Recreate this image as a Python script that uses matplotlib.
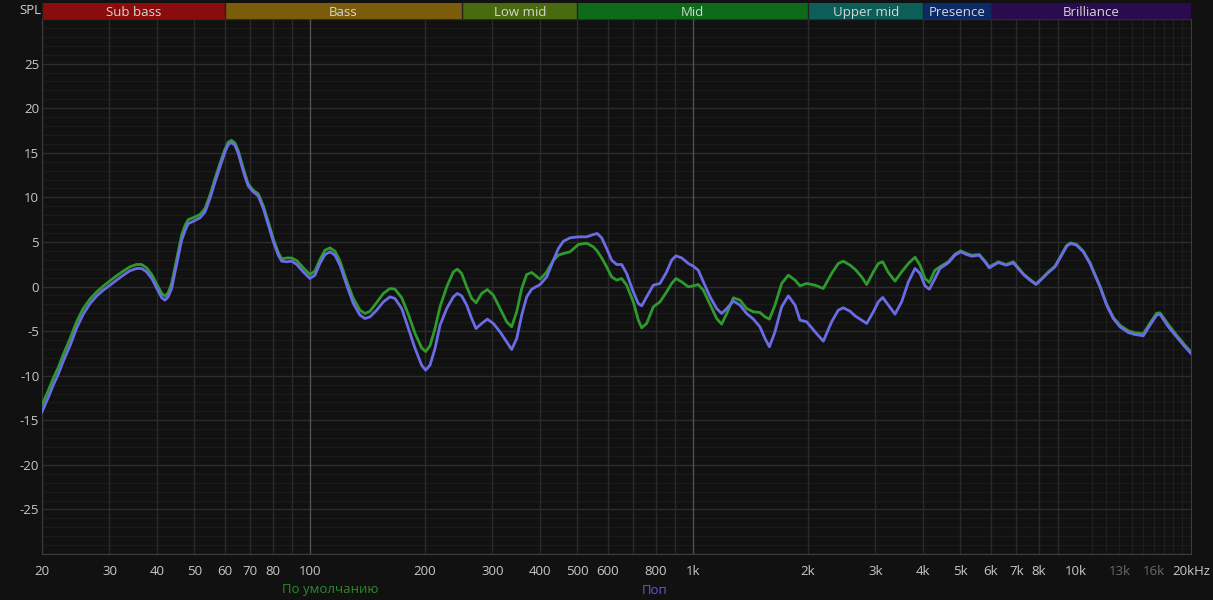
import numpy as np
import matplotlib
matplotlib.use("Agg")
import matplotlib.pyplot as plt

plt.rcParams['font.family'] = ['Open Sans', 'DejaVu Sans']
plt.rcParams['axes.unicode_minus'] = False

# Частоты (Гц)
freqs = [20.0, 20.8, 21.4, 22.1, 22.7, 23.7, 24.6, 25.6, 26.7, 27.8, 28.9, 30.1, 31.3, 32.6,
         33.9, 35.3, 36.4, 37.5, 38.7, 39.9, 41.1, 41.9, 42.7, 43.6, 44.5, 45.4, 46.3, 47.3,
         48.2, 49.7, 51.7, 53.3, 54.9, 56.6, 58.3, 60.1, 61.3, 62.5, 63.8, 65.1, 66.4, 67.8,
         69.1, 71.2, 73.4, 75.7, 78.0, 80.4, 82.8, 84.5, 87.1, 89.7, 92.5, 96.2, 100.1, 103.2,
         106.3, 109.6, 113.0, 116.4, 120.0, 124.9, 130.0, 135.3, 139.4, 143.7, 149.6, 155.7,
         162.1, 167.0, 173.9, 181.0, 188.4, 196.0, 200.8, 206.1, 212.4, 218.9,
         227.9, 237.2, 242.9, 249.3, 257.0, 264.8, 271.8, 281.2, 290.9, 301.6, 313.9, 326.8,
         336.8, 347.1, 357.7, 368.6, 379.9, 399.5, 415.8, 432.8, 446.0, 459.6, 478.4, 502.9,
         528.6, 550.2, 563.6, 578.4, 596.0, 614.2, 633.0, 652.3, 672.3, 699.7, 721.1, 735.7,
         758.1, 789.1, 821.5, 855.1, 881.2, 904.4, 935.7, 973.9, 1003.5, 1034, 1066, 1110,
         1155, 1190, 1227, 1277, 1329, 1383, 1440, 1498, 1544, 1586, 1640, 1707, 1777, 1850,
         1906, 1984, 2086, 2193, 2305, 2400, 2473, 2575,
         2653, 2761, 2846, 2963, 3053, 3134, 3242, 3374, 3512, 3657, 3806, 3922, 4041, 4148,
         4291, 4421, 4648, 4839, 5006, 5190, 5348, 5600, 5795, 5948, 6281, 6577, 6874, 7299,
         7597, 7877, 8150, 8484, 8830, 9190, 9471, 9700, 10056, 10467, 10896, 11230, 11573,
         12045, 12537, 13049, 13720, 14281, 15013, 15628, 16266, 16600, 17448, 18343, 19283,
         20000]

# "По умолчанию" (зелёная)
default_db = [-13.3, -11.6, -10.3, -9.0, -7.7, -5.8, -4.0, -2.5, -1.4, -0.6, 0.04, 0.63, 1.2, 1.72,
              2.2, 2.47, 2.47, 2.09, 1.35, 0.22, -0.78, -1.08, -0.7, 0.34, 2.2, 4.07, 5.75, 6.88,
              7.5, 7.73, 8.07, 8.74, 10.24, 12.1, 13.8, 15.4, 16.2, 16.4, 16.1, 15.2, 13.9, 12.6,
              11.5, 10.8, 10.4, 9.0, 7.2, 5.3, 3.8, 3.1, 3.2, 3.2, 2.9, 2.1, 1.35, 1.72,
              3.0, 4.07, 4.33, 3.96, 2.84, 0.6, -1.35, -2.65, -3.03, -2.77, -1.8, -0.78,
              -0.22, -0.3, -1.27, -3.14, -5.27, -6.88, -7.3, -6.65, -4.71, -2.28,
              -0.04, 1.64, 1.94, 1.46, -0.04, -1.35, -1.83, -0.78, -0.34, -0.97, -2.47, -3.96,
              -4.52, -2.84, -0.22, 1.35, 1.57, 0.82, 1.64, 2.95, 3.51, 3.70, 3.89, 4.71,
              4.86, 4.45, 3.96, 3.21, 2.21, 1.08, 0.71, 0.90, 0.15, -1.72, -3.77, -4.63,
              -4.15, -2.28, -1.72, -0.60, 0.34, 0.90, 0.52, -0.04, 0.07, 0.22, -0.41, -2.02,
              -3.59, -4.22, -3.03, -1.27, -1.53, -2.47, -2.84, -2.91, -3.40, -3.66, -2.09, 0.34, 1.27, 0.71,
              0.07, 0.34, 0.15, -0.22, 1.46, 2.58, 2.84, 2.39,
              1.94, 1.08, 0.22, 1.64, 2.58, 2.77, 1.57, 0.60, 1.64, 2.58, 3.29, 2.39, 0.90, 0.45,
              1.83, 2.21, 2.77, 3.62, 4.00, 3.70, 3.51, 3.59, 2.84, 2.21, 2.77, 2.47, 2.77, 1.42,
              0.79, 0.30, 0.90, 1.64, 2.28, 3.59, 4.60, 4.90, 4.71, 3.96, 2.65, 1.35, 0.04,
              -2.0, -3.48, -4.34, -4.97, -5.2, -5.31, -4.11, -3.0, -2.95, -4.26, -5.46, -6.58,
              -7.33]

# "Поп" (синяя)
pop_db = [-14.05, -12.37, -11.06, -9.75, -8.44, -6.58, -4.71, -3.14, -1.91, -1.05, -0.41, 0.15, 0.71, 1.27,
          1.76, 2.02, 2.02, 1.64, 0.90, -0.22, -1.27, -1.53, -1.16, -0.22, 1.64, 3.51, 5.19, 6.31,
          7.06, 7.32, 7.70, 8.37, 9.87, 11.73, 13.41, 15.10, 15.92, 16.14, 15.84, 14.91, 13.60, 12.29,
          11.28, 10.61, 10.16, 8.74, 6.88, 5.01, 3.51, 2.84, 2.77, 2.84, 2.47, 1.64, 0.90, 1.27,
          2.58, 3.59, 3.89, 3.51, 2.39, 0.15, -1.91, -3.21, -3.59, -3.40, -2.65, -1.72,
          -1.16, -1.35, -2.47, -4.71, -6.95, -8.82, -9.38, -8.82, -6.95, -4.34,
          -2.47, -1.16, -0.78, -1.05, -2.09, -3.59, -4.71, -4.15, -3.66, -4.15, -5.08, -6.20,
          -7.06, -5.83, -3.21, -1.16, -0.30, 0.22, 1.08, 2.95, 4.26, 5.08, 5.46, 5.57,
          5.57, 5.83, 5.94, 5.46, 4.26, 2.95, 2.47, 2.47, 1.46, -0.60, -1.91, -2.17,
          -1.16, 0.15, 0.34, 1.64, 2.95, 3.44, 3.21, 2.58, 2.28, 1.83, 0.52, -1.16,
          -2.47, -3.03, -2.47, -1.64, -2.09, -3.03, -3.66, -4.52, -5.83, -6.76, -5.08, -2.28, -1.05, -2.09,
          -3.77, -3.96, -5.08, -6.13, -3.96, -2.65, -2.39, -2.77,
          -3.29, -3.77, -4.15, -2.84, -1.72, -1.23, -2.09, -3.10, -1.72, 0.52, 2.02, 1.46, 0.07, -0.30,
          0.90, 2.02, 2.65, 3.51, 3.89, 3.59, 3.40, 3.51, 2.77, 2.09, 2.69, 2.39, 2.65, 1.35,
          0.71, 0.22, 0.82, 1.57, 2.21, 3.51, 4.52, 4.82, 4.63, 3.89, 2.58, 1.27, -0.04,
          -2.09, -3.59, -4.52, -5.16, -5.38, -5.53, -4.34, -3.21, -3.1, -4.52, -5.64, -6.76,
          -7.51]

# Полосы частот
band_names = ["Sub bass", "Bass", "Low mid", "Mid", "Upper mid", "Presence", "Brilliance"]
band_edges = [20, 60, 250, 500, 2000, 4000, 6000, 20000]
band_colors = ["#8a0c0c", "#7a5c0a", "#4a6a10", "#0c6a1a", "#0d5e58", "#0c2a66", "#2a0c4e"]

xtick_vals = [20, 30, 40, 50, 60, 70, 80, 100, 200, 300, 400, 500, 600, 800,
              1000, 2000, 3000, 4000, 5000, 6000, 7000, 8000, 10000, 13000, 16000, 20000]
xtick_labels = ["20", "30", "40", "50", "60", "70", "80", "100", "200", "300", "400", "500",
                "600", "800", "1k", "2k", "3k", "4k", "5k", "6k", "7k", "8k", "10k",
                "13k", "16k", "20kHz"]

bg = "#111111"
fig = plt.figure(figsize=(12.13, 6.0), dpi=100, facecolor=bg)
ax = fig.add_axes([42 / 1213, 46 / 600, 1149 / 1213, 535 / 600], facecolor=bg)
ax.set_xscale("log")
ax.set_xlim(20, 20000)
ax.set_ylim(-30, 30)

# сетка
for d in range(-30, 31):
    if d % 5 == 0:
        ax.axhline(d, color="#2c2c2c", lw=1, zorder=1)
    else:
        ax.axhline(d, color="#1a1a1a", lw=1, zorder=0)
for dec in [10, 100, 1000]:
    for m in range(1, 10):
        f = dec * m
        if f < 20 or f > 10000:
            continue
        c = "#505050" if m == 1 else "#2a2a2a"
        ax.axvline(f, color=c, lw=1, zorder=1)
for m in range(11, 20):
    ax.axvline(m * 1000, color="#1e1e1e", lw=1, zorder=0)

ax.plot(freqs, default_db, color="#2e9a2e", lw=2, zorder=3, solid_joinstyle="round")
ax.plot(freqs, pop_db, color="#6b6be6", lw=2, zorder=4, solid_joinstyle="round")

for s in ["left", "bottom", "right"]:
    ax.spines[s].set_color("#3c3c3c")
ax.spines["top"].set_visible(False)

ax.set_xticks(xtick_vals)
ax.set_xticklabels(xtick_labels)
ax.xaxis.set_minor_locator(matplotlib.ticker.NullLocator())
ax.set_yticks(range(-25, 30, 5))
ax.tick_params(axis="both", length=0, colors="#c8c8c8", labelsize=9.5)
ax.tick_params(axis="x", pad=8)
ax.tick_params(axis="y", pad=2)
for lbl in ax.get_xticklabels():
    if lbl.get_text() in ("13k", "16k"):
        lbl.set_color("#6a6a6a")

# верхняя полоса с названиями диапазонов
band = fig.add_axes([42 / 1213, 581 / 600, 1149 / 1213, 16 / 600], facecolor=bg)
band.set_xscale("log")
band.set_xlim(20, 20000)
band.set_ylim(0, 1)
for i, name in enumerate(band_names):
    lo, hi = band_edges[i], band_edges[i + 1]
    band.axvspan(lo, hi, color=band_colors[i], lw=0)
    band.axvline(lo, color="#222222", lw=1)
    band.text(np.sqrt(lo * hi), 0.4, name, ha="center", va="center",
              color="#d6d6d6", fontsize=9.5)
band.axis("off")

fig.text(41 / 1213, 1 - 10 / 600, "SPL", ha="right", va="center", color="#d0d0d0", fontsize=9.5)
fig.text(330 / 1213, 1 - 590 / 600, "По умолчанию", ha="center", va="center",
         color="#2a8a2a", fontsize=9.5)
fig.text(655 / 1213, 1 - 590 / 600, "Поп", ha="center", va="center",
         color="#5c5cd0", fontsize=9.5)

fig.savefig("out.png", dpi=100, facecolor=bg)
